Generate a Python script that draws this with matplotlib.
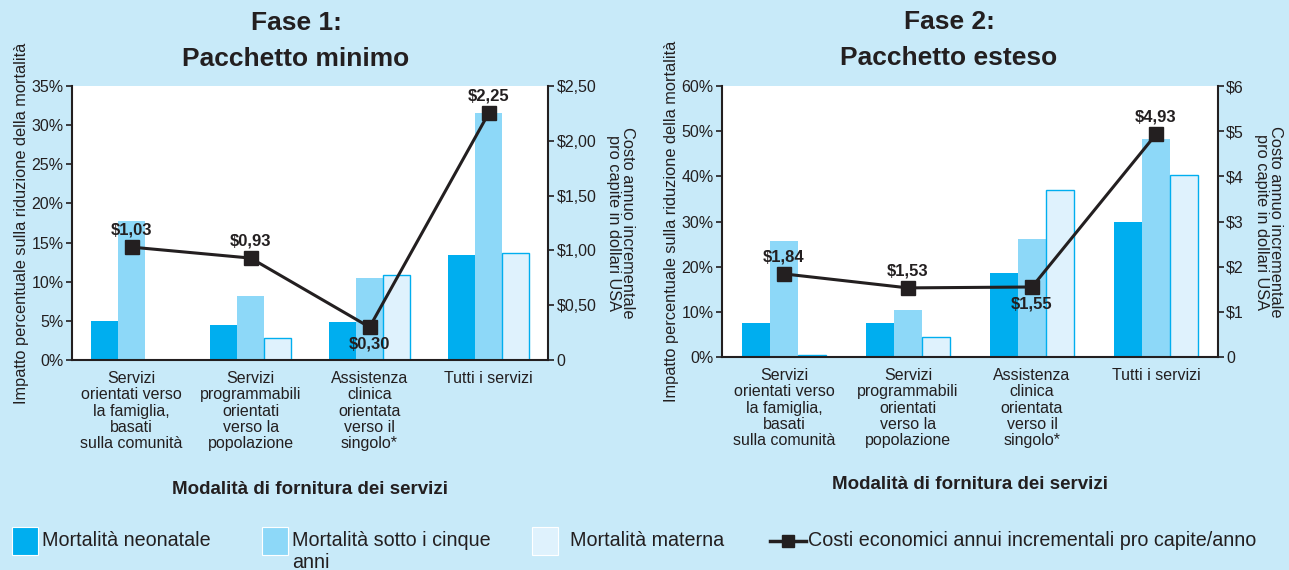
import numpy as np
import matplotlib.pyplot as plt
from matplotlib.patches import Rectangle
from matplotlib.lines import Line2D

plt.rcParams['font.family'] = ['Liberation Sans', 'DejaVu Sans']

# dati
categorie = ["Servizi\norientati verso\nla famiglia,\nbasati\nsulla comunità",
             "Servizi\nprogrammabili\norientati\nverso la\npopolazione",
             "Assistenza\nclinica\norientata\nverso il\nsingolo*",
             "Tutti i servizi"]

neonatale_1 = [5.0, 4.5, 4.8, 13.4]
cinque_1 = [17.8, 8.2, 10.5, 31.6]
materna_1 = [0.0, 2.8, 10.8, 13.7]
costi_1 = [1.03, 0.93, 0.30, 2.25]
etichette_costi_1 = ["$1,03", "$0,93", "$0,30", "$2,25"]

neonatale_2 = [7.5, 7.5, 18.6, 29.9]
cinque_2 = [25.7, 10.5, 26.1, 48.3]
materna_2 = [0.35, 4.4, 36.9, 40.3]
costi_2 = [1.84, 1.53, 1.55, 4.93]
etichette_costi_2 = ["$1,84", "$1,53", "$1,55", "$4,93"]

tick_sx_1 = [0, 5, 10, 15, 20, 25, 30, 35]
tick_dx_1 = [0, 0.5, 1.0, 1.5, 2.0, 2.5]
lab_dx_1 = ["0", "$0,50", "$1,00", "$1,50", "$2,00", "$2,50"]
tick_sx_2 = [0, 10, 20, 30, 40, 50, 60]
tick_dx_2 = [0, 1, 2, 3, 4, 5, 6]
lab_dx_2 = ["0", "$1", "$2", "$3", "$4", "$5", "$6"]

BG = '#c8eaf9'
C_NEO = '#00aeef'
C_CINQUE = '#8dd8f8'
C_MAT = '#dff2fd'
NERO = '#231f20'

fig = plt.figure(figsize=(12.89, 5.70), dpi=100, facecolor=BG)


def pannello(rect, neo, cinque, mat, costi, etichette, ymax, tsx, tdx, ldx,
             cmax, sotto, xlpad):
    ax = fig.add_axes(rect)
    x = np.arange(len(categorie))
    w = 0.225
    ax.bar(x - w, neo, w, color=C_NEO)
    ax.bar(x, cinque, w, color=C_CINQUE)
    ax.bar(x + w, mat, w, color=C_MAT, edgecolor=C_NEO, linewidth=1)
    ax.set_xlim(-0.5, 3.5)
    ax.set_ylim(0, ymax)
    ax.set_yticks(tsx)
    ax.set_yticklabels([f"{t}%" for t in tsx], fontsize=11.5, color=NERO)
    ax.set_xticks(x)
    ax.set_xticklabels(categorie, fontsize=11.5, color=NERO, linespacing=1.1)
    ax.tick_params(axis='x', length=0, pad=8)
    ax.tick_params(axis='y', length=4, width=1.2, color=NERO, pad=2)
    for s in ['top', 'right']:
        ax.spines[s].set_visible(False)
    for s in ['left', 'bottom']:
        ax.spines[s].set_linewidth(1.5)
        ax.spines[s].set_color(NERO)
    ax.set_ylabel("Impatto percentuale sulla riduzione della mortalità",
                  fontsize=11.8, color=NERO, labelpad=2)
    ax.set_xlabel("Modalità di fornitura dei servizi", fontsize=13.5,
                  fontweight='bold', color=NERO, labelpad=xlpad)

    ax2 = ax.twinx()
    ax2.plot(x, costi, color=NERO, linewidth=2.2, marker='s', markersize=10)
    ax2.set_ylim(0, cmax)
    ax2.set_yticks(tdx)
    ax2.set_yticklabels(ldx, fontsize=11.5, color=NERO)
    ax2.tick_params(axis='y', length=4, width=1.2, color=NERO, pad=2)
    for s in ['top', 'left', 'bottom']:
        ax2.spines[s].set_visible(False)
    ax2.spines['right'].set_linewidth(1.5)
    ax2.spines['right'].set_color(NERO)
    ax2.set_ylabel("Costo annuo incrementale\npro capite in dollari USA",
                   fontsize=11.8, color=NERO, rotation=-90, labelpad=28,
                   linespacing=0.95)
    for xi, c, t, giu in zip(x, costi, etichette, sotto):
        ax2.annotate(t, (xi, c), xytext=(0, -12 if giu else 12.5),
                     textcoords='offset points', ha='center', va='center',
                     fontsize=12, fontweight='bold', color=NERO)
    return ax


pannello([0.0559, 0.3684, 0.3693, 0.4807], neonatale_1, cinque_1, materna_1,
         costi_1, etichette_costi_1, 35, tick_sx_1, tick_dx_1, lab_dx_1, 2.5,
         [False, False, True, False], 22)
pannello([0.5601, 0.3737, 0.3848, 0.4754], neonatale_2, cinque_2, materna_2,
         costi_2, etichette_costi_2, 60, tick_sx_2, tick_dx_2, lab_dx_2, 6,
         [False, False, True, False], 20)

fig.text(296 / 1289, 1 - 41 / 570, "Fase 1:\nPacchetto minimo", ha='center',
         va='center', fontsize=19, fontweight='bold', color=NERO,
         linespacing=1.6)
fig.text(949 / 1289, 1 - 40 / 570, "Fase 2:\nPacchetto esteso", ha='center',
         va='center', fontsize=19, fontweight='bold', color=NERO,
         linespacing=1.6)

# legenda in basso
voci = [(12, C_NEO, "Mortalità neonatale"),
        (262, C_CINQUE, "Mortalità sotto i cinque\nanni"),
        (532, C_MAT, "Mortalità materna")]
for x0, col, testo in voci:
    fig.patches.append(Rectangle((x0 / 1289, 1 - 555 / 570), 26 / 1289,
                                 28 / 570, transform=fig.transFigure,
                                 facecolor=col, edgecolor='white',
                                 linewidth=0.8))
    xt = 570 if x0 == 532 else x0 + 30
    if '\n' in testo:
        fig.text(xt / 1289, 1 - 531 / 570, testo, ha='left', va='top',
                 fontsize=14.2, color=NERO, linespacing=1.2)
    else:
        fig.text(xt / 1289, 1 - 541 / 570, testo, ha='left', va='center',
                 fontsize=14.2, color=NERO)
fig.add_artist(Line2D([770 / 1289, 806 / 1289], [1 - 541 / 570] * 2,
                      transform=fig.transFigure, color=NERO, linewidth=2.5))
fig.add_artist(Line2D([788 / 1289], [1 - 541 / 570],
                      transform=fig.transFigure, color=NERO, marker='s',
                      markersize=9))
fig.text(808 / 1289, 1 - 541 / 570,
         "Costi economici annui incrementali pro capite/anno", ha='left',
         va='center', fontsize=14.2, color=NERO)

fig.savefig("out.png", dpi=100, facecolor=BG)
